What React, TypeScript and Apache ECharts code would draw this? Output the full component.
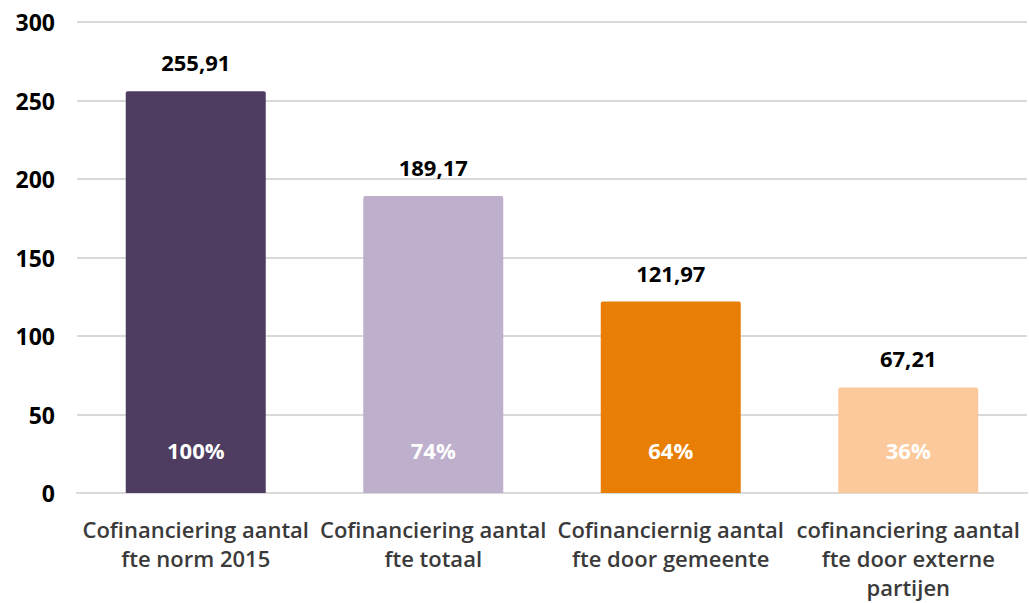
import React, { useEffect, useRef } from "react";
import * as echarts from "echarts";

const categories = [
  "Cofinanciering aantal\nfte norm 2015",
  "Cofinanciering aantal\nfte totaal",
  "Cofinanciernig aantal\nfte door gemeente",
  "cofinanciering aantal\nfte door externe\npartijen",
];
const values = [255.91, 189.17, 121.97, 67.21];
const percentLabels = ["100%", "74%", "64%", "36%"];
const colors = ["#4E3C61", "#BEAFCD", "#E87E04", "#FCC99C"];
const yTicks = [0, 50, 100, 150, 200, 250, 300];

const FONT = "'Open Sans', 'Noto Sans', sans-serif";

export default function App() {
  const ref = useRef<HTMLDivElement>(null);
  useEffect(() => {
    if (!ref.current) return;
    const chart = echarts.init(ref.current, null, { renderer: "svg" });
    chart.setOption({
      animation: false,
      grid: { left: 77, right: 2, top: 22, bottom: 110, containLabel: false },
      xAxis: {
        type: "category",
        data: categories,
        axisLine: { show: true, lineStyle: { color: "#D9D9D9", width: 2 } },
        axisTick: { show: false },
        axisLabel: {
          interval: 0,
          color: "#3A3A3A",
          fontFamily: FONT,
          fontWeight: 600,
          fontSize: 22,
          lineHeight: 29,
          margin: 21,
        },
      },
      yAxis: {
        type: "value",
        min: yTicks[0],
        max: yTicks[yTicks.length - 1],
        interval: 50,
        axisLine: { show: false },
        axisTick: { show: false },
        splitLine: { lineStyle: { color: "#D9D9D9", width: 2 } },
        axisLabel: {
          color: "#000000",
          fontFamily: FONT,
          fontWeight: 700,
          fontSize: 23,
          margin: 22,
        },
      },
      series: [
        {
          type: "bar",
          barWidth: 140,
          data: values.map((v, i) => ({ value: v, itemStyle: { color: colors[i] } })),
          itemStyle: { borderRadius: [2, 2, 0, 0] },
          label: {
            show: true,
            position: "top",
            distance: 18,
            color: "#000000",
            fontFamily: FONT,
            fontWeight: 700,
            fontSize: 22,
            formatter: (p: any) => values[p.dataIndex].toFixed(2).replace(".", ","),
          },
        },
        {
          type: "bar",
          barWidth: 140,
          barGap: "-100%",
          data: values,
          itemStyle: { color: "transparent" },
          silent: true,
          label: {
            show: true,
            position: "insideBottom",
            distance: 32,
            color: "#FFFFFF",
            fontFamily: FONT,
            fontWeight: 700,
            fontSize: 22,
            formatter: (p: any) => percentLabels[p.dataIndex],
          },
        },
      ],
    });
    return () => chart.dispose();
  }, []);
  return <div ref={ref} style={{ width: 1029, height: 603, position: "absolute", left: 0, top: 0 }} />;
}
